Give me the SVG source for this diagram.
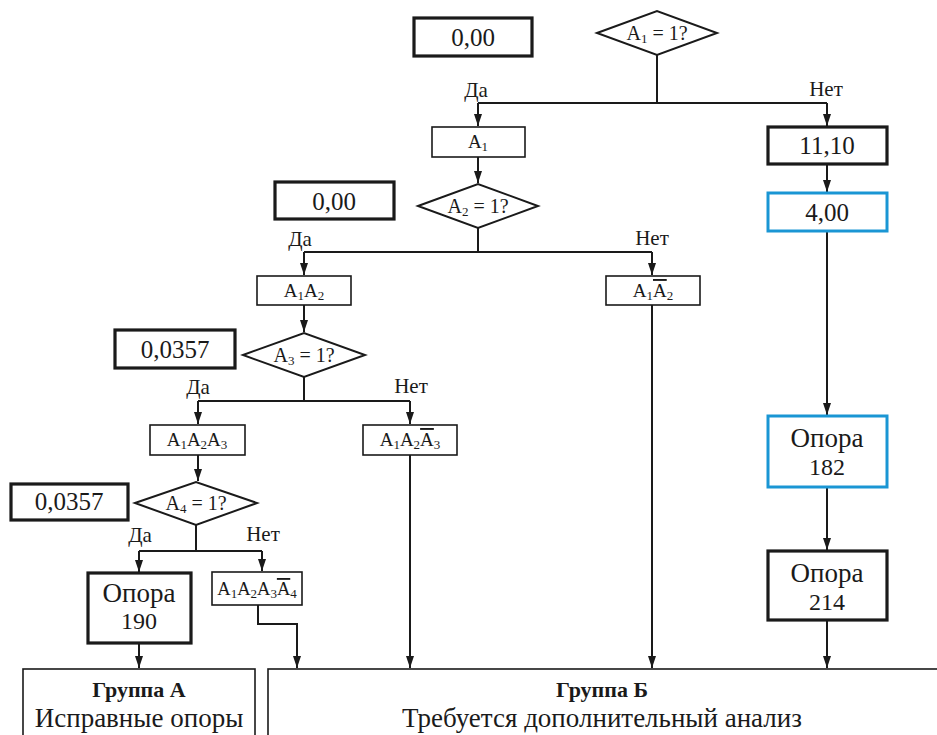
<svg xmlns="http://www.w3.org/2000/svg" width="937" height="735" viewBox="0 0 937 735">
  <style>
    text { font-family: 'Liberation Serif', 'DejaVu Serif', serif; fill: #1a1a1a; text-anchor: middle; }
    .val { font-size: 25px; }
    .q { font-size: 20px; }
    .lbl { font-size: 19px; }
    .sm { font-size: 18.5px; }
    .yn { font-size: 21px; }
    .big { font-size: 27px; }
    .num { font-size: 24px; }
    .ttl { font-size: 22px; font-weight: bold; }
    .sub { font-size: 13px; }
    .thin { fill: #fff; stroke: #1a1a1a; stroke-width: 1.6; }
    .thick { fill: #fff; stroke: #1a1a1a; stroke-width: 3.2; }
    .blue { fill: #fff; stroke: #1a96d4; stroke-width: 3; }
    .dia { fill: #fff; stroke: #1a1a1a; stroke-width: 2; }
    .ln { fill: none; stroke: #1a1a1a; stroke-width: 2; }
    .arr { fill: none; stroke: #1a1a1a; stroke-width: 2; marker-end: url(#ah); }
    .ov { text-decoration: overline; }
  </style>
  <defs>
    <marker id="ah" viewBox="0 0 12 8" refX="12" refY="4" markerWidth="12" markerHeight="8" markerUnits="userSpaceOnUse" orient="auto">
      <path d="M0,0 L12,4 L0,8 z" fill="#1a1a1a"/>
    </marker>
  </defs>

  <!-- connectors -->
  <g id="connectors">
    <!-- A1 branch -->
    <path class="ln" d="M657,55 V103"/>
    <path class="ln" d="M478,103 H827"/>
    <path class="arr" d="M478,103 V126"/>
    <path class="arr" d="M827,103 V126"/>
    <path class="arr" d="M478,157 V183"/>
    <path class="arr" d="M827,164 V192"/>
    <path class="arr" d="M827,231 V415"/>
    <path class="arr" d="M827,487 V550"/>
    <path class="arr" d="M827,620 V668"/>
    <!-- A2 branch -->
    <path class="ln" d="M478,228 V252"/>
    <path class="ln" d="M304,252 H652"/>
    <path class="arr" d="M304,252 V275"/>
    <path class="arr" d="M652,252 V275"/>
    <path class="arr" d="M304,305 V332"/>
    <path class="arr" d="M652,305 V668"/>
    <!-- A3 branch -->
    <path class="ln" d="M304,377 V401"/>
    <path class="ln" d="M198,401 H410"/>
    <path class="arr" d="M198,401 V424"/>
    <path class="arr" d="M410,401 V424"/>
    <path class="arr" d="M198,455 V481"/>
    <path class="arr" d="M410,455 V668"/>
    <!-- A4 branch -->
    <path class="ln" d="M196,525 V551"/>
    <path class="ln" d="M139,551 H262"/>
    <path class="arr" d="M139,551 V572"/>
    <path class="arr" d="M262,551 V571"/>
    <path class="arr" d="M139,643 V668"/>
    <path class="arr" d="M258,605 V624 H297 V668"/>
  </g>

  <!-- level 1 -->
  <g id="p1">
    <rect class="thick" x="414" y="18" width="118" height="38"/>
    <text class="val" x="473" y="46">0,00</text>
  </g>
  <g id="q1">
    <polygon class="dia" points="597,33 657,11 717,33 657,55"/>
    <text class="q" x="657" y="40">A<tspan class="sub" dy="3">1</tspan><tspan dy="-3"> = 1?</tspan></text>
  </g>
  <g id="yes1"><text class="yn" x="476" y="97">Да</text></g>
  <g id="no1"><text class="yn" x="826" y="96">Нет</text></g>
  <g id="n-a1">
    <rect class="thin" x="432" y="127" width="93" height="30"/>
    <text class="lbl" x="478" y="148">A<tspan class="sub" dy="3">1</tspan></text>
  </g>
  <g id="p-1110">
    <rect class="thick" x="768" y="127" width="119" height="37"/>
    <text class="val" x="827" y="154">11,10</text>
  </g>
  <g id="p-400">
    <rect class="blue" x="768" y="193" width="119" height="38"/>
    <text class="val" x="827" y="221">4,00</text>
  </g>

  <!-- level 2 -->
  <g id="p2">
    <rect class="thick" x="275" y="182" width="119" height="37"/>
    <text class="val" x="334" y="210">0,00</text>
  </g>
  <g id="q2">
    <polygon class="dia" points="418,206 478,184 538,206 478,228"/>
    <text class="q" x="478" y="213">A<tspan class="sub" dy="3">2</tspan><tspan dy="-3"> = 1?</tspan></text>
  </g>
  <g id="yes2"><text class="yn" x="300" y="246">Да</text></g>
  <g id="no2"><text class="yn" x="652" y="245">Нет</text></g>
  <g id="n-a1a2">
    <rect class="thin" x="257" y="276" width="94" height="29"/>
    <text class="lbl" x="304" y="297">A<tspan class="sub" dy="3">1</tspan><tspan dy="-3">A</tspan><tspan class="sub" dy="3">2</tspan></text>
  </g>
  <g id="n-a1na2">
    <rect class="thin" x="606" y="276" width="94" height="29"/>
    <text class="lbl" x="653" y="297">A<tspan class="sub" dy="3">1</tspan><tspan class="ov" dy="-3">A</tspan><tspan class="sub" dy="3">2</tspan></text>
  </g>

  <!-- level 3 -->
  <g id="p3">
    <rect class="thick" x="115" y="330" width="120" height="38"/>
    <text class="val" x="175" y="358">0,0357</text>
  </g>
  <g id="q3">
    <polygon class="dia" points="243,355 304,333 365,355 304,377"/>
    <text class="q" x="304" y="362">A<tspan class="sub" dy="3">3</tspan><tspan dy="-3"> = 1?</tspan></text>
  </g>
  <g id="yes3"><text class="yn" x="198" y="394">Да</text></g>
  <g id="no3"><text class="yn" x="411" y="393">Нет</text></g>
  <g id="n-a1a2a3">
    <rect class="thin" x="150" y="425" width="95" height="30"/>
    <text class="lbl" x="197" y="446">A<tspan class="sub" dy="3">1</tspan><tspan dy="-3">A</tspan><tspan class="sub" dy="3">2</tspan><tspan dy="-3">A</tspan><tspan class="sub" dy="3">3</tspan></text>
  </g>
  <g id="n-a1a2na3">
    <rect class="thin" x="363" y="425" width="94" height="30"/>
    <text class="lbl" x="410" y="446">A<tspan class="sub" dy="3">1</tspan><tspan dy="-3">A</tspan><tspan class="sub" dy="3">2</tspan><tspan class="ov" dy="-3">A</tspan><tspan class="sub" dy="3">3</tspan></text>
  </g>

  <!-- level 4 -->
  <g id="p4">
    <rect class="thick" x="11" y="484" width="117" height="36"/>
    <text class="val" x="69" y="510">0,0357</text>
  </g>
  <g id="q4">
    <polygon class="dia" points="135,503 196,482 257,503 196,525"/>
    <text class="q" x="196" y="510">A<tspan class="sub" dy="3">4</tspan><tspan dy="-3"> = 1?</tspan></text>
  </g>
  <g id="yes4"><text class="yn" x="140" y="542">Да</text></g>
  <g id="no4"><text class="yn" x="263" y="541">Нет</text></g>
  <g id="s190">
    <rect class="thick" x="88" y="573" width="103" height="70"/>
    <text class="big" x="139" y="602">Опора</text>
    <text class="num" x="139" y="629">190</text>
  </g>
  <g id="n-a1a2a3na4">
    <rect class="thin" x="212" y="572" width="90" height="33"/>
    <text class="sm" x="257" y="595">A<tspan class="sub" dy="3">1</tspan><tspan dy="-3">A</tspan><tspan class="sub" dy="3">2</tspan><tspan dy="-3">A</tspan><tspan class="sub" dy="3">3</tspan><tspan class="ov" dy="-3">A</tspan><tspan class="sub" dy="3">4</tspan></text>
  </g>

  <!-- right column supports -->
  <g id="s182">
    <rect class="blue" x="768" y="416" width="119" height="71"/>
    <text class="big" x="827" y="447">Опора</text>
    <text class="num" x="827" y="475">182</text>
  </g>
  <g id="s214">
    <rect class="thick" x="768" y="551" width="119" height="69"/>
    <text class="big" x="827" y="582">Опора</text>
    <text class="num" x="827" y="610">214</text>
  </g>

  <!-- result groups -->
  <g id="groupA">
    <rect class="thin" x="23" y="669" width="232" height="80"/>
    <text class="ttl" x="139" y="697">Группа А</text>
    <text class="big" x="139" y="727">Исправные опоры</text>
  </g>
  <g id="groupB">
    <rect class="thin" x="268" y="669" width="690" height="80"/>
    <text class="ttl" x="602" y="697">Группа Б</text>
    <text class="big" x="602" y="727">Требуется дополнительный анализ</text>
  </g>
</svg>
